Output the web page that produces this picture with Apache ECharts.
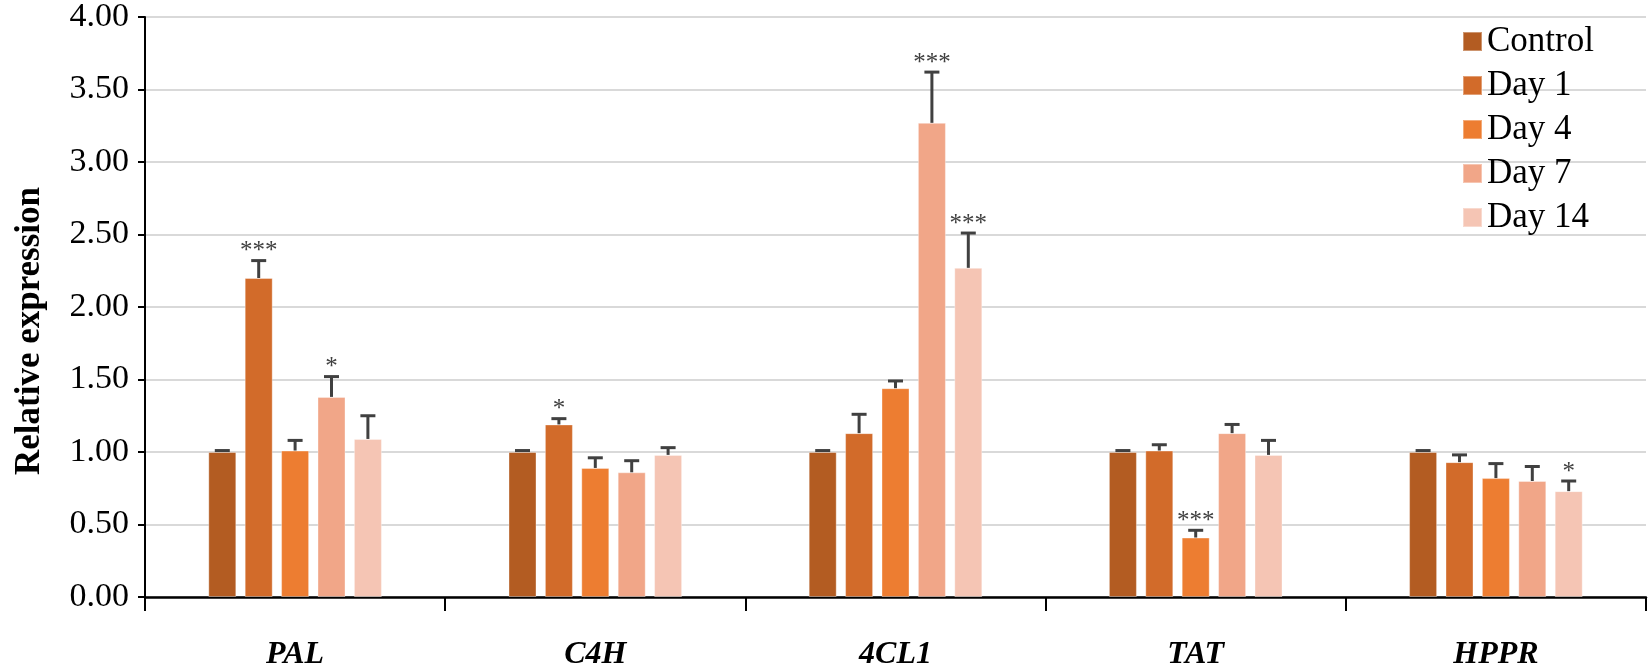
<!DOCTYPE html>
<html>
<head>
<meta charset="utf-8">
<script src="https://cdn.jsdelivr.net/npm/echarts@6/dist/echarts.min.js"></script>
<style>
html,body{margin:0;padding:0;background:#fff;}
#chart{width:1652px;height:671px;}
</style>
</head>
<body>
<div id="chart"></div>
<script>
const categories = ['PAL', 'C4H', '4CL1', 'TAT', 'HPPR'];
const seriesNames = ['Control', 'Day 1', 'Day 4', 'Day 7', 'Day 14'];
const control   = [1.00, 1.00, 1.00, 1.00, 1.00];
const controlErr= [0.01, 0.01, 0.01, 0.01, 0.01];
const day1      = [2.20, 1.19, 1.13, 1.01, 0.93];
const day1Err   = [0.12, 0.04, 0.13, 0.04, 0.05];
const day4      = [1.01, 0.89, 1.44, 0.41, 0.82];
const day4Err   = [0.07, 0.07, 0.05, 0.05, 0.10];
const day7      = [1.38, 0.86, 3.27, 1.13, 0.80];
const day7Err   = [0.14, 0.08, 0.35, 0.06, 0.10];
const day14     = [1.09, 0.98, 2.27, 0.98, 0.73];
const day14Err  = [0.16, 0.05, 0.24, 0.10, 0.07];
const controlSig= ['', '', '', '', ''];
const day1Sig   = ['***', '*', '', '', ''];
const day4Sig   = ['', '', '', '***', ''];
const day7Sig   = ['*', '', '***', '', ''];
const day14Sig  = ['', '', '***', '', '*'];
const yTicks    = ['0.00','0.50','1.00','1.50','2.00','2.50','3.00','3.50','4.00'];
const yTitle    = 'Relative expression';

const values = [control, day1, day4, day7, day14];
const errs = [controlErr, day1Err, day4Err, day7Err, day14Err];
const sigs = [controlSig, day1Sig, day4Sig, day7Sig, day14Sig];
const colors = ['#B35C22', '#D26B2A', '#ED7D31', '#F1A688', '#F5C5B4'];

const FONT = 'Liberation Serif';
const BAR_W = 28;
const BAR_GAP = 0.3;

const chart = echarts.init(document.getElementById('chart'));

const series = [];
values.forEach((vals, i) => {
  series.push({
    name: seriesNames[i],
    type: 'bar',
    data: vals,
    barWidth: BAR_W,
    barGap: (BAR_GAP * 100) + '%',
    itemStyle: { color: colors[i], borderColor: 'rgba(255,255,255,0.35)', borderWidth: 1 },
    z: 2
  });
});
values.forEach((vals, i) => {
  series.push({
    type: 'custom',
    name: seriesNames[i] + ' err',
    data: vals.map((v, k) => [k, v, errs[i][k]]),
    z: 5,
    silent: true,
    renderItem: function (params, api) {
      const k = api.value(0);
      const v = api.value(1);
      const e = api.value(2);
      const s = sigs[i][k];
      const pitch = BAR_W * (1 + BAR_GAP);
      const off = (i - 2) * pitch;
      const p0 = api.coord([k, v]);
      const p1 = api.coord([k, v + e]);
      const x = p0[0] + off;
      const capHalf = 7.5;
      const children = [
        { type: 'line', shape: { x1: x, y1: p0[1], x2: x, y2: p1[1] }, style: { stroke: '#404040', lineWidth: 3 } },
        { type: 'line', shape: { x1: x - capHalf, y1: p1[1], x2: x + capHalf, y2: p1[1] }, style: { stroke: '#404040', lineWidth: 3 } }
      ];
      if (s) {
        children.push({
          type: 'text',
          style: { text: s, x: x, y: p1[1] - 9, align: 'center', verticalAlign: 'middle', fill: '#404040', fontFamily: FONT, fontSize: 25 }
        });
      }
      return { type: 'group', children: children };
    }
  });
});

chart.setOption({
  animation: false,
  backgroundColor: '#fff',
  grid: { left: 145, right: 6, top: 16, bottom: 67, containLabel: false },
  legend: {
    data: seriesNames,
    orient: 'vertical',
    left: 1457,
    top: 19,
    icon: 'rect',
    itemWidth: 19,
    itemHeight: 19,
    itemGap: 9,
    textStyle: { fontFamily: FONT, fontSize: 35, color: '#000' }
  },
  graphic: [{
    type: 'text',
    x: 30,
    y: 331,
    rotation: Math.PI / 2,
    style: { text: yTitle, align: 'center', verticalAlign: 'middle', fontFamily: FONT, fontSize: 35, fontWeight: 'bold', fill: '#000' }
  }],
  xAxis: {
    type: 'category',
    data: categories,
    axisLine: { lineStyle: { color: '#000', width: 2.5 } },
    axisTick: { show: true, length: 14, lineStyle: { color: '#000', width: 2 } },
    axisLabel: { fontFamily: FONT, fontSize: 32, fontWeight: 'bold', fontStyle: 'italic', color: '#000', margin: 42 },
    splitLine: { show: false }
  },
  yAxis: {
    type: 'value',
    min: 0,
    max: 4,
    interval: 0.5,
    axisLine: { show: true, lineStyle: { color: '#000', width: 2 } },
    axisTick: { show: true, length: 7, lineStyle: { color: '#000', width: 2 } },
    axisLabel: {
      fontFamily: FONT, fontSize: 34, color: '#000', margin: 16,
      formatter: function (v) { const idx = Math.round(v / 0.5); return yTicks[idx] !== undefined ? yTicks[idx] : v.toFixed(2); }
    },
    splitLine: { lineStyle: { color: '#D9D9D9', width: 2 } }
  },
  series: series
});
</script>
</body>
</html>
